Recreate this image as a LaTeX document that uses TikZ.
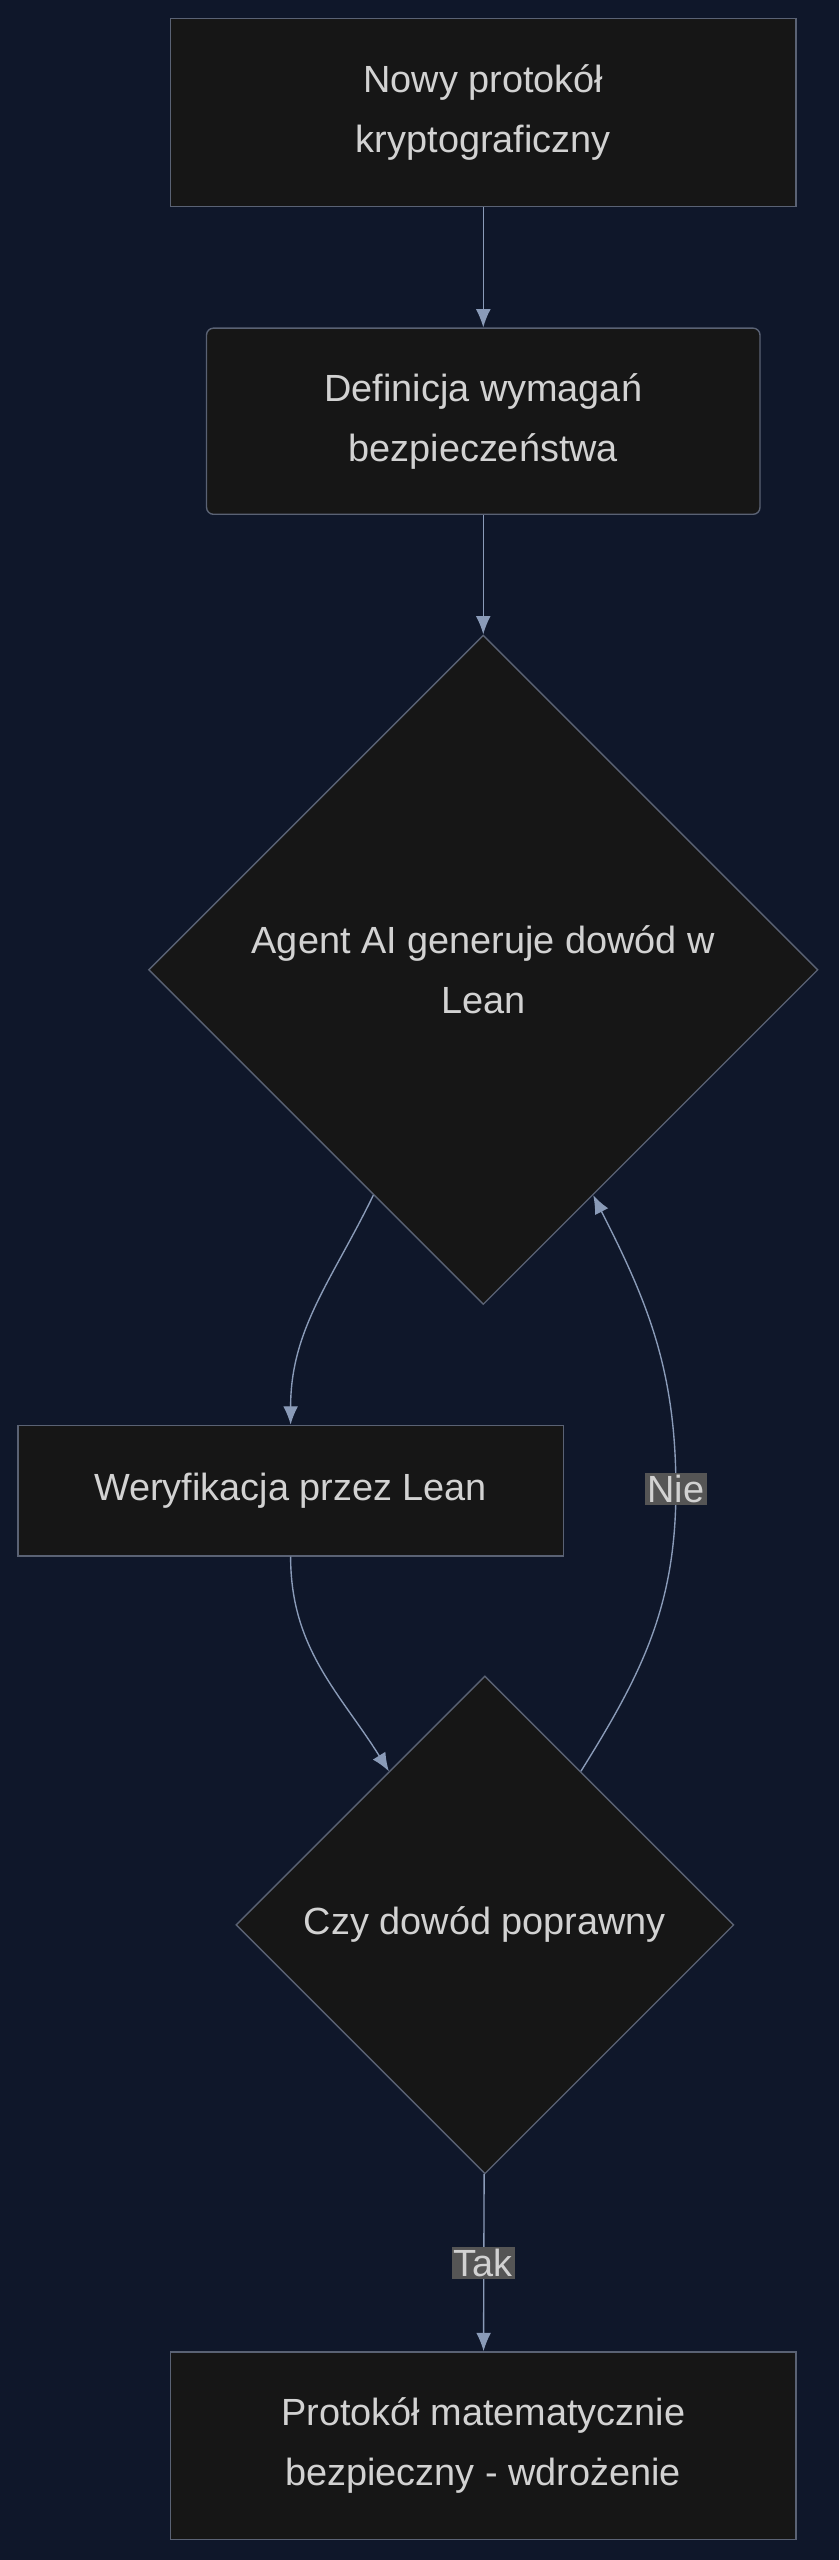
\documentclass[tikz,border=0pt]{standalone}
\usepackage{fontspec}
\setmainfont{Liberation Sans}
\usetikzlibrary{shapes.geometric,arrows.meta}
\definecolor{bgc}{HTML}{0F172A}
\definecolor{boxc}{HTML}{161616}
\definecolor{linec}{HTML}{5A6274}
\definecolor{txtc}{HTML}{D2D2D2}
\definecolor{arrc}{HTML}{8A9BB8}
\definecolor{lblc}{HTML}{555555}

\begin{document}
\begin{tikzpicture}[x=0.05cm, y=-0.05cm]
    \tikzset{box/.style={draw=linec, fill=boxc, line width=1.2pt, text=txtc, align=center, inner sep=0pt,
                 font=\fontsize{33}{52}\selectfont},
             dmd/.style={box, diamond, aspect=1},
             lbl/.style={fill=lblc, text=txtc, inner sep=2pt, font=\fontsize{33}{40}\selectfont},
             arr/.style={draw=arrc, line width=1.2pt, -{Latex[length=16pt,width=13pt]}}}
    \fill[bgc] (0,0) rectangle (514,1568);

    \node[box, minimum width=383*0.05cm, minimum height=115*0.05cm] (b1) at (296,69) {Nowy protokół\\ kryptograficzny};
    \node[box, rounded corners=6pt, minimum width=339*0.05cm, minimum height=114*0.05cm] (b2) at (296,258) {Definicja wymagań\\ bezpieczeństwa};
    \node[dmd, minimum width=410*0.05cm, minimum height=410*0.05cm] (d1) at (296,594) {Agent AI generuje dowód w\\ Lean};
    \node[box, minimum width=334*0.05cm, minimum height=80*0.05cm] (b3) at (178,913) {Weryfikacja przez Lean};
    \node[dmd, minimum width=305*0.05cm, minimum height=305*0.05cm] (d2) at (297,1179) {Czy dowód poprawny};
    \node[box, minimum width=383*0.05cm, minimum height=115*0.05cm] (b4) at (296,1498) {Protokół matematycznie\\ bezpieczny - wdrożenie};

    \coordinate (nie) at (414,912);
    \coordinate (tak) at (296,1386);

    \draw[arr] (b1) -- (b2);
    \draw[arr] (b2) -- (d1);
    \draw[arr] (d1.-116) to[out=-116, in=90] (b3.north);
    \draw[arr] (b3.south) to[out=-90, in=122] (d2.122);
    \draw[arr] (d2.58) to[out=58, in=-90] (nie) to[out=90, in=-63] (d1.-64);
    \draw[arr] (d2) -- (b4);

    \node[lbl] (nielbl) at (nie) {Nie};
    \node[lbl] (taklbl) at (tak) {Tak};
\end{tikzpicture}
\end{document}
